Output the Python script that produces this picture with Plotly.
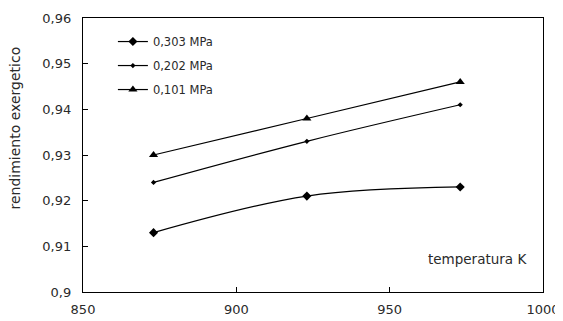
import plotly.graph_objects as go

temperature = [873, 923, 973]
series_names = ["0,303 MPa", "0,202 MPa", "0,101 MPa"]
eff_0303 = [0.913, 0.921, 0.923]
eff_0202 = [0.924, 0.933, 0.941]
eff_0101 = [0.930, 0.938, 0.946]

x_ticks = [850, 900, 950, 1000]
y_ticks = [0.90, 0.91, 0.92, 0.93, 0.94, 0.95, 0.96]
y_tick_text = ["0,9", "0,91", "0,92", "0,93", "0,94", "0,95", "0,96"]
y_title = "rendimiento exergetico"
x_note = "temperatura K"

FONT = "DejaVu Sans, Liberation Sans, Arial, sans-serif"
TXT = "#2a2a2a"
fig = go.Figure()
specs = [
    (eff_0303, "diamond", 7),
    (eff_0202, "diamond", 4),
    (eff_0101, "triangle-up", 8),
]
for i, (vals, sym, sz) in enumerate(specs):
    fig.add_trace(go.Scatter(
        x=temperature, y=vals, name=series_names[i], mode="lines+markers",
        line=dict(color="black", width=1.2, shape="spline", smoothing=1),
        marker=dict(symbol=sym, size=sz, color="black"),
        legendgroup=f"g{i}",
    ))

# page body has an 8px margin, so the figure is sized to fill the rest
fig.update_layout(
    width=555, height=313,
    margin=dict(l=75, r=20, t=10, b=29),
    paper_bgcolor="white", plot_bgcolor="white",
    font=dict(family=FONT, size=12, color=TXT),
    separators=", ",
    showlegend=True,
    legend=dict(x=0.065, y=0.967, xanchor="left", yanchor="top",
                bgcolor="rgba(0,0,0,0)", tracegroupgap=5,
                font=dict(size=11.5, family=FONT, color=TXT)),
    xaxis=dict(range=[850, 1000], tickvals=x_ticks, ticks="inside", ticklen=5,
               tickcolor="black", showgrid=False, zeroline=False, automargin=False,
               showline=True, linecolor="black", linewidth=1.4, mirror=True,
               ticklabelstandoff=5, tickfont=dict(size=13)),
    yaxis=dict(range=[0.90, 0.96], tickvals=y_ticks, ticktext=y_tick_text,
               ticks="inside", ticklen=5, tickcolor="black", showgrid=False,
               zeroline=False, showline=True, linecolor="black", linewidth=1.4,
               mirror=True, tickfont=dict(size=13), automargin=False,
               ticklabelstandoff=8),
    annotations=[
        dict(text=x_note, x=0.97, y=0.12, xref="paper", yref="paper",
             xanchor="right", yanchor="middle", showarrow=False,
             font=dict(size=13.5, family=FONT, color=TXT)),
        dict(text=y_title, x=-0.148, y=0.6, xref="paper", yref="paper",
             xanchor="center", yanchor="middle", textangle=-90, showarrow=False,
             font=dict(size=14, family=FONT, color=TXT)),
    ],
)
fig.write_html("out.html")
